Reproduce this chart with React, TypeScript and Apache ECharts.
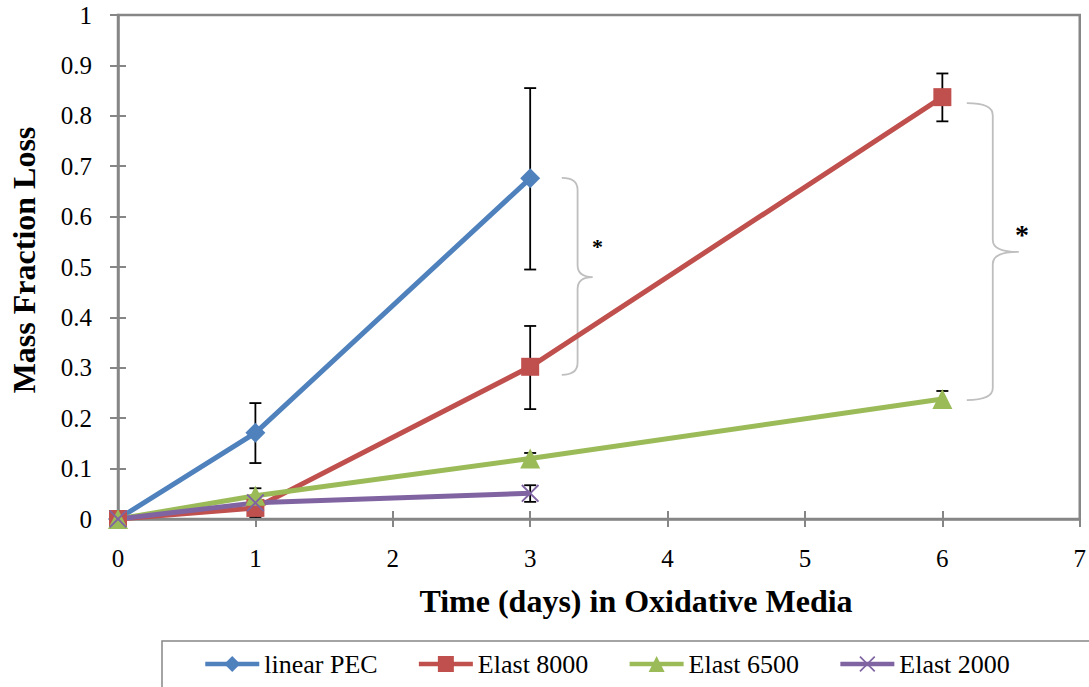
import React, { useEffect, useRef } from "react";
import * as echarts from "echarts";

const seriesNames = ["linear PEC", "Elast 8000", "Elast 6500", "Elast 2000"];
const seriesColors = ["#4F81BD", "#C0504D", "#9BBB59", "#8064A2"];
const xTicks = [0, 1, 2, 3, 4, 5, 6, 7];

// [day, mass fraction loss]
const linearPEC = [[0, 0], [1, 0.171], [3, 0.676]];
const elast8000 = [[0, 0], [1, 0.022], [3, 0.302], [6, 0.837]];
const elast6500 = [[0, 0], [1, 0.046], [3, 0.12], [6, 0.238]];
const elast2000 = [[0, 0], [1, 0.032], [3, 0.051]];

// [day, low, high]
const linearPECErr = [[1, 0.111, 0.23], [3, 0.495, 0.855]];
const elast8000Err = [[1, 0.004, 0.038], [3, 0.218, 0.383], [6, 0.789, 0.884]];
const elast6500Err = [[1, 0.031, 0.061], [3, 0.109, 0.131], [6, 0.222, 0.254]];
const elast2000Err = [[3, 0.034, 0.067]];

// significance braces: [xEnd, xVertical, xTip, yTop, yTip, yBottom]
const braces = [
  [3.23, 3.345, 3.455, 0.677, 0.48, 0.286],
  [6.178, 6.367, 6.556, 0.825, 0.53, 0.236],
];
const braceLabels = ["*", "*"];
// asterisk positions [x, y]
const starPos = [[3.49, 0.548], [6.58, 0.573]];
const starSizes = [22, 28];

const FONT = "Liberation Serif";
const AXIS_GRAY = "#868686";

const xMarker =
  "path://M0,1.5L1.5,0L10,8.5L18.5,0L20,1.5L11.5,10L20,18.5L18.5,20L10,11.5L1.5,20L0,18.5L8.5,10Z";

export default function App() {
  const ref = useRef<HTMLDivElement>(null);

  useEffect(() => {
    if (!ref.current) return;
    const chart = echarts.init(ref.current, null, { renderer: "svg" });

    const lineData = [linearPEC, elast8000, elast6500, elast2000];
    const errData = [linearPECErr, elast8000Err, elast6500Err, elast2000Err];
    const symbols = ["diamond", "rect", "triangle", xMarker];
    const symbolSizes = [20, 18, 20, 18];

    const errorSeries = errData.map((d, i) => ({
      type: "custom",
      name: seriesNames[i] + " err",
      data: d,
      z: 1,
      encode: { x: 0, y: [1, 2] },
      silent: true,
      renderItem: (params: any, api: any) => {
        const x = api.value(0);
        const lo = api.coord([x, api.value(1)]);
        const hi = api.coord([x, api.value(2)]);
        const hw = 6;
        const style = { stroke: "#000", lineWidth: 1.8 };
        return {
          type: "group",
          children: [
            { type: "line", shape: { x1: lo[0], y1: lo[1], x2: hi[0], y2: hi[1] }, style },
            { type: "line", shape: { x1: lo[0] - hw, y1: lo[1], x2: lo[0] + hw, y2: lo[1] }, style },
            { type: "line", shape: { x1: hi[0] - hw, y1: hi[1], x2: hi[0] + hw, y2: hi[1] }, style },
          ],
        };
      },
    }));

    const lineSeries = lineData.map((d, i) => ({
      type: "line",
      name: seriesNames[i],
      data: d,
      z: 3,
      symbol: symbols[i],
      symbolSize: symbolSizes[i],
      showAllSymbol: true,
      lineStyle: { color: seriesColors[i], width: 5 },
      itemStyle: { color: seriesColors[i] },
    }));

    const braceSeries = {
      type: "custom",
      name: "braces",
      data: braces,
      z: 2,
      silent: true,
      encode: { x: [0, 1, 2], y: [3, 4, 5] },
      renderItem: (params: any, api: any) => {
        const i = params.dataIndex;
        const [x0, yT] = api.coord([api.value(0), api.value(3)]);
        const [xv, yTip] = api.coord([api.value(1), api.value(4)]);
        const [xt] = api.coord([api.value(2), api.value(4)]);
        const [, yB] = api.coord([api.value(0), api.value(5)]);
        const r = 12;
        const d =
          `M${x0},${yT} Q${xv},${yT} ${xv},${yT + r} L${xv},${yTip - r} ` +
          `Q${xv},${yTip} ${xt},${yTip} Q${xv},${yTip} ${xv},${yTip + r} ` +
          `L${xv},${yB - r} Q${xv},${yB} ${x0},${yB}`;
        const sp = api.coord(starPos[i]);
        return {
          type: "group",
          children: [
            {
              type: "path",
              shape: { pathData: d },
              style: { stroke: "#BFBFBF", lineWidth: 1.8, fill: "none" },
            },
            {
              type: "text",
              x: sp[0],
              y: sp[1] + 4,
              style: {
                text: braceLabels[i],
                fontFamily: FONT,
                fontWeight: "bold",
                fontSize: starSizes[i],
                fill: "#000",
                align: "center",
                verticalAlign: "middle",
              },
            },
          ],
        };
      },
    };

    const option: any = {
      animation: false,
      backgroundColor: "#fff",
      textStyle: { fontFamily: FONT },
      grid: {
        left: 118,
        right: 9,
        top: 15,
        bottom: 168,
        show: true,
        borderColor: AXIS_GRAY,
        borderWidth: 2.5,
        backgroundColor: "transparent",
      },
      legend: {
        data: seriesNames,
        left: 203,
        top: 651,
        padding: 0,
        itemWidth: 54,
        itemHeight: 20,
        itemGap: 39,
        lineStyle: { width: 4.5 },
        textStyle: { fontFamily: FONT, fontSize: 26, color: "#000", lineHeight: 26 },
      },
      xAxis: [
        {
          type: "value",
          min: 0,
          max: 7,
          interval: 1,
          position: "bottom",
          axisLine: { show: true, onZero: false, lineStyle: { color: AXIS_GRAY, width: 2.5 } },
          axisTick: { show: true, inside: false, length: 8, lineStyle: { color: AXIS_GRAY, width: 2 } },
          axisLabel: {
            margin: 27,
            color: "#000",
            fontSize: 25,
            fontFamily: FONT,
            formatter: (v: number) => String(xTicks[Math.round(v)] ?? v),
          },
          splitLine: { show: false },
        },
        {
          type: "value",
          min: 0,
          max: 7,
          interval: 1,
          position: "bottom",
          axisLine: { show: false, onZero: false },
          axisTick: { show: true, inside: true, length: 8, lineStyle: { color: AXIS_GRAY, width: 2 } },
          axisLabel: { show: false },
          splitLine: { show: false },
        },
      ],
      yAxis: [
        {
          type: "value",
          min: 0,
          max: 1,
          interval: 0.1,
          position: "left",
          axisLine: { show: true, onZero: false, lineStyle: { color: AXIS_GRAY, width: 2.5 } },
          axisTick: { show: true, inside: false, length: 8, lineStyle: { color: AXIS_GRAY, width: 2 } },
          axisLabel: { margin: 26, color: "#000", fontSize: 25, fontFamily: FONT },
          splitLine: { show: false },
        },
        {
          type: "value",
          min: 0,
          max: 1,
          interval: 0.1,
          position: "left",
          axisLine: { show: false, onZero: false },
          axisTick: { show: true, inside: true, length: 8, lineStyle: { color: AXIS_GRAY, width: 2 } },
          axisLabel: { show: false },
          splitLine: { show: false },
        },
      ],
      graphic: [
        {
          type: "rect",
          shape: { x: 162, y: 641, width: 1000, height: 100 },
          style: { fill: "none", stroke: AXIS_GRAY, lineWidth: 1.5 },
          z: -1,
          silent: true,
        },
        {
          type: "text",
          x: 636,
          y: 601,
          style: {
            text: "Time (days) in Oxidative Media",
            fontFamily: FONT,
            fontWeight: "bold",
            fontSize: 32,
            fill: "#000",
            align: "center",
            verticalAlign: "middle",
          },
        },
        {
          type: "text",
          x: 24,
          y: 260,
          rotation: Math.PI / 2,
          style: {
            text: "Mass Fraction Loss",
            fontFamily: FONT,
            fontWeight: "bold",
            fontSize: 32,
            fill: "#000",
            align: "center",
            verticalAlign: "middle",
          },
        },
      ],
      series: [...errorSeries, braceSeries, ...lineSeries],
    };

    chart.setOption(option);
    return () => chart.dispose();
  }, []);

  return (
    <div
      ref={ref}
      style={{ position: "fixed", left: 0, top: 0, width: 1089, height: 687, background: "#fff" }}
    />
  );
}
